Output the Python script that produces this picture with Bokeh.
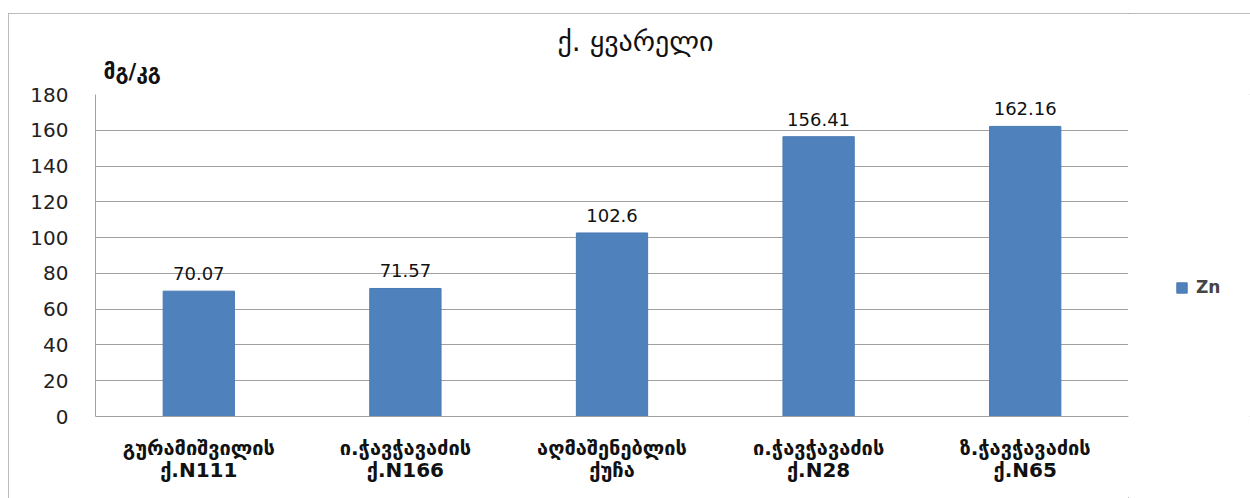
from bokeh.plotting import figure
from bokeh.layouts import row
from bokeh.models import ColumnDataSource, FixedTicker, Legend, LegendItem, LabelSet, Title, Range1d
from bokeh.core.properties import value
from bokeh.embed import file_html
from bokeh.resources import INLINE

categories = ["გურამიშვილის\nქ.N111", "ი.ჭავჭავაძის\nქ.N166", "აღმაშენებლის\nქუჩა",
              "ი.ჭავჭავაძის\nქ.N28", "ზ.ჭავჭავაძის\nქ.N65"]
zn_values = [70.07, 71.57, 102.6, 156.41, 162.16]
value_labels = ["70.07", "71.57", "102.6", "156.41", "162.16"]
y_ticks = [0, 20, 40, 60, 80, 100, 120, 140, 160, 180]
title_text = "ქ. ყვარელი"
unit_text = "მგ/კგ"
series_name = "Zn"

BAR_COLOR = "#4f81bd"
src = ColumnDataSource(dict(cat=categories, val=zn_values, lab=value_labels))

p = figure(x_range=categories, y_range=Range1d(0, 180), width=1120, height=485,
           output_backend="svg", toolbar_location=None, title=None,
           min_border_left=87, min_border_right=0, min_border_top=81, min_border_bottom=82)
p.outline_line_color = None
p.background_fill_color = "white"
p.border_fill_color = "white"

r = p.vbar(x="cat", top="val", width=0.345, source=src, fill_color=BAR_COLOR, line_color="#4a7ab3")

p.yaxis.ticker = FixedTicker(ticks=y_ticks)
p.yaxis.major_label_text_font = "DejaVu Sans"
p.yaxis.major_label_text_font_size = "20px"
p.yaxis.major_label_text_color = "#222222"
p.yaxis.major_tick_line_color = None
p.yaxis.minor_tick_line_color = None
p.yaxis.axis_line_color = "#a0a0a0"
p.yaxis.major_label_standoff = 21

p.xaxis.major_label_text_font = "DejaVu Sans"
p.xaxis.major_label_text_font_size = "20px"
p.xaxis.major_label_text_font_style = "bold"
p.xaxis.major_label_text_color = "#111111"
p.xaxis.major_label_text_line_height = 0.95
p.xaxis.major_tick_line_color = None
p.xaxis.axis_line_color = "#a0a0a0"
p.xaxis.major_label_standoff = 13

p.xgrid.grid_line_color = None
p.ygrid.grid_line_color = "#a0a0a0"
p.ygrid.ticker = FixedTicker(ticks=y_ticks)

labels = LabelSet(x="cat", y="val", text="lab", source=src, text_align="center",
                  text_baseline="bottom", y_offset=11, text_font_size=value("18px"),
                  text_color="#111111", text_font=value("DejaVu Sans"))
p.add_layout(labels)

unit_title = Title(text=unit_text, align="left", offset=8, text_font="DejaVu Sans",
                   text_font_size="21px", text_font_style="bold", text_color="#111111",
                   standoff=21)
main_title = Title(text=title_text, align="left", offset=462, text_font="DejaVu Sans",
                   text_font_size="28px", text_font_style="normal", text_color="#111111",
                   standoff=-21)
p.add_layout(unit_title, "above")
p.add_layout(main_title, "above")

# legend panel
p2 = figure(width=122, height=485, x_range=Range1d(0, 1), y_range=Range1d(0, 1),
            output_backend="svg", toolbar_location=None, title=None,
            x_axis_location=None, y_axis_location=None,
            min_border_left=0, min_border_right=0, min_border_top=0, min_border_bottom=0)
p2.outline_line_color = None
p2.xgrid.grid_line_color = None
p2.ygrid.grid_line_color = None
p2.border_fill_color = "white"
leg_src = ColumnDataSource(dict(x=[-5.0], top=[0.0]))
r2 = p2.vbar(x="x", top="top", width=0.3, source=leg_src, fill_color=BAR_COLOR, line_color="#4a7ab3")
legend = Legend(items=[LegendItem(label=series_name, renderers=[r2])], location=(47, 119),
                glyph_width=13, glyph_height=13, label_text_font="DejaVu Sans",
                label_text_font_size="17px", label_text_font_style="bold",
                border_line_color=None, background_fill_alpha=0, padding=10, margin=0,
                label_standoff=8)
p2.add_layout(legend)

layout = row(p, p2, spacing=0)
layout.styles = {"outline": "1px solid #a6a6a6", "outline-offset": "-1px",
                 "margin-left": "8px", "margin-top": "13px"}

open("out.html", "w").write(file_html(layout, INLINE))
